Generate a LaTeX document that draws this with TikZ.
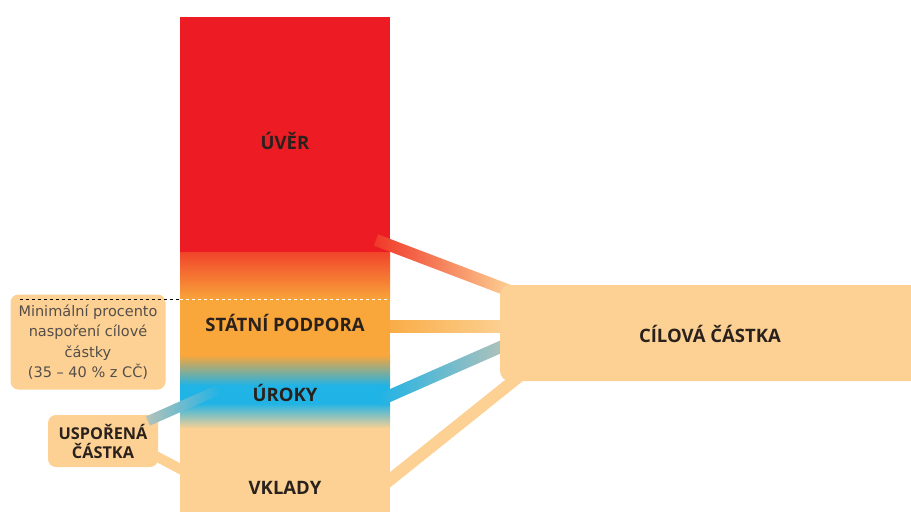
\documentclass[tikz,border=0pt]{standalone}
\usepackage{fontspec}
\setmainfont{Open Sans}
\newfontfamily\notefont{DejaVu Sans}
\usetikzlibrary{calc}

\definecolor{uvred}{HTML}{ED1C24}
\definecolor{podpora}{HTML}{F9A63A}
\definecolor{urok}{HTML}{1FB3E6}
\definecolor{vklad}{HTML}{FCD193}
\definecolor{haze}{HTML}{B4C2B8}
\definecolor{ink}{HTML}{2A211D}

\begin{document}
\begin{tikzpicture}[x=1pt,y=-1pt,label/.style={font=\bfseries\fontsize{18.5}{20}\selectfont,text=ink},
  note/.style={fill=vklad,rounded corners=8pt,align=center,inner sep=0pt}]
\tikzstyle{band} = [line width=12pt,draw=vklad]

\useasboundingbox (0,0) rectangle (911,512);
\clip (0,0) rectangle (911,512);

% column
\fill[uvred] (180,17) rectangle (390,252.5);
\shade[top color=uvred!70!podpora, bottom color=podpora] (180,252) rectangle (390,300.5);
\fill[podpora] (180,300) rectangle (390,355.5);
\shade[top color=podpora, bottom color=urok] (180,355) rectangle (390,385.5);
\fill[urok] (180,385) rectangle (390,403.5);
\shade[top color=urok, bottom color=vklad] (180,403) rectangle (390,428.5);
\fill[vklad] (180,428) rectangle (390,512);

\node[label] (uver) at (285,141) {ÚVĚR};
\node[label] (podp) at (285,323) {STÁTNÍ PODPORA};
\node[label] (uroky) at (285,393) {ÚROKY};
\node[label] (vklady) at (285,488) {VKLADY};

% left notes
\node[note,minimum width=155pt,minimum height=95pt,text=ink!80,
  font=\notefont\fontsize{14.5}{20.5}\selectfont] (minimum) at (88,342)
  {Minimální procento\\naspoření cílové\\částky\\(35 – 40 \% z CČ)};
\node[note,minimum width=110pt,minimum height=52pt,text=ink,
  font=\bfseries\fontsize{16.3}{19}\selectfont] (usporena) at (103,441)
  {USPOŘENÁ\\ČÁSTKA};

\coordinate (dashstart) at (20,299);
\coordinate (dashmid) at (180,299);
\coordinate (dashstop) at (390,299);
\draw[thick,dashed] (dashstart) -- (dashmid);
\draw[thick,dashed,white] (dashmid) -- (dashstop);

% connectors
\coordinate (uverout) at (376,240);
\coordinate (uverin) at (510,291);
\coordinate (podpout) at (390,326);
\coordinate (podpin) at (505,326);
\coordinate (urokout) at (380,400);
\coordinate (urokin) at (505,345);
\coordinate (vkladout) at (386,483);
\coordinate (vkladin) at (522,374);
\coordinate (usp1) at (148,421);
\coordinate (usp2) at (218,390);
\coordinate (usp3) at (150,453);
\coordinate (usp4) at (186,472);

\shade[left color=uvred!80!podpora, right color=vklad]
  ($(uverout)!6pt!90:(uverin)$) -- ($(uverin)!6pt!-90:(uverout)$) --
  ($(uverin)!6pt!90:(uverout)$) -- ($(uverout)!6pt!-90:(uverin)$) -- cycle;
\shade[left color=podpora!85!vklad, right color=vklad]
  ($(podpout)!6pt!90:(podpin)$) -- ($(podpin)!6pt!-90:(podpout)$) --
  ($(podpin)!6pt!90:(podpout)$) -- ($(podpout)!6pt!-90:(podpin)$) -- cycle;
\shade[left color=urok, right color=haze]
  ($(urokout)!6pt!90:(urokin)$) -- ($(urokin)!6pt!-90:(urokout)$) --
  ($(urokin)!6pt!90:(urokout)$) -- ($(urokout)!6pt!-90:(urokin)$) -- cycle;
\draw[band] (vkladout) -- (vkladin);
\shade[left color=haze, right color=urok]
  ($(usp1)!5pt!90:(usp2)$) -- ($(usp2)!5pt!-90:(usp1)$) --
  ($(usp2)!5pt!90:(usp1)$) -- ($(usp1)!5pt!-90:(usp2)$) -- cycle;
\draw[band,line width=10pt] (usp3) -- (usp4);

% target
\fill[vklad,rounded corners=10pt] (500,285) rectangle (940,381);
\node[label] (cilova) at (710,334) {CÍLOVÁ ČÁSTKA};

\end{tikzpicture}
\end{document}
